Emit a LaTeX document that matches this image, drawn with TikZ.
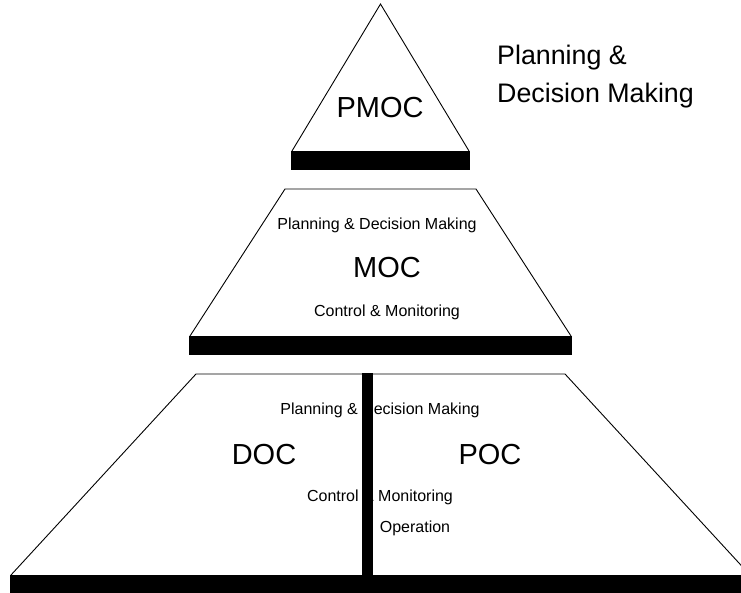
\documentclass[tikz,border=0pt]{standalone}
\usepackage{fontspec}
\setmainfont{Liberation Sans}
\tikzset{
  outline/.style={draw=black, line width=0.9pt, line join=miter},
  basebar/.style={fill=black, draw=none},
  smalllbl/.style={inner sep=0pt, font=\fontsize{16}{18}\selectfont},
  biglbl/.style={inner sep=0pt, font=\fontsize{29}{32}\selectfont},
  sidelbl/.style={inner sep=0pt, anchor=west, font=\fontsize{26.8}{30}\selectfont},
}
\begin{document}
\begin{tikzpicture}[x=1pt,y=-1pt]
\useasboundingbox (0,0) rectangle (741,593);
\clip (0,0) rectangle (741,593);
% PMOC triangle
\coordinate (tA) at (380.5,4);
\coordinate (tL) at (292,151);
\coordinate (tR) at (469,151);
\draw[outline] (tL) -- (tA) -- (tR);
\fill[basebar] (291,151) rectangle (470,170);
\node[biglbl] (pmoc) at (380,108) {PMOC};
\node[sidelbl] (pl1) at (497,58) {Planning \&};
\node[sidelbl] (pl2) at (497,96) {Decision Making};
% MOC trapezoid
\coordinate (mTL) at (285,189);
\coordinate (mTR) at (476,189);
\coordinate (mBL) at (190,336);
\coordinate (mBR) at (571,336);
\draw[outline] (mBL) -- (mTL) -- (mTR) -- (mBR);
\fill[basebar] (189,336) rectangle (572,355);
\node[smalllbl] (mpl) at (377,225) {Planning \& Decision Making};
\node[biglbl] (moc) at (387,268) {MOC};
\node[smalllbl] (mcm) at (387,312) {Control \& Monitoring};
% bottom trapezoid
\coordinate (bTL) at (196,374);
\coordinate (bTR) at (565,374);
\coordinate (bBL) at (11,575);
\coordinate (bBR) at (750,575);
\draw[outline] (bBL) -- (bTL) -- (bTR) -- (bBR);
\node[smalllbl] (bpl) at (380,410) {Planning \& Decision Making};
\node[biglbl] (doc) at (264,455) {DOC};
\node[biglbl] (poc) at (490,455) {POC};
\node[smalllbl] (bcm) at (380,497) {Control \& Monitoring};
\node[smalllbl] (bop) at (415,528) {Operation};
\fill[basebar] (362,373) rectangle (373,576);
\fill[basebar] (10,575) rectangle (752,594);
\end{tikzpicture}
\end{document}
